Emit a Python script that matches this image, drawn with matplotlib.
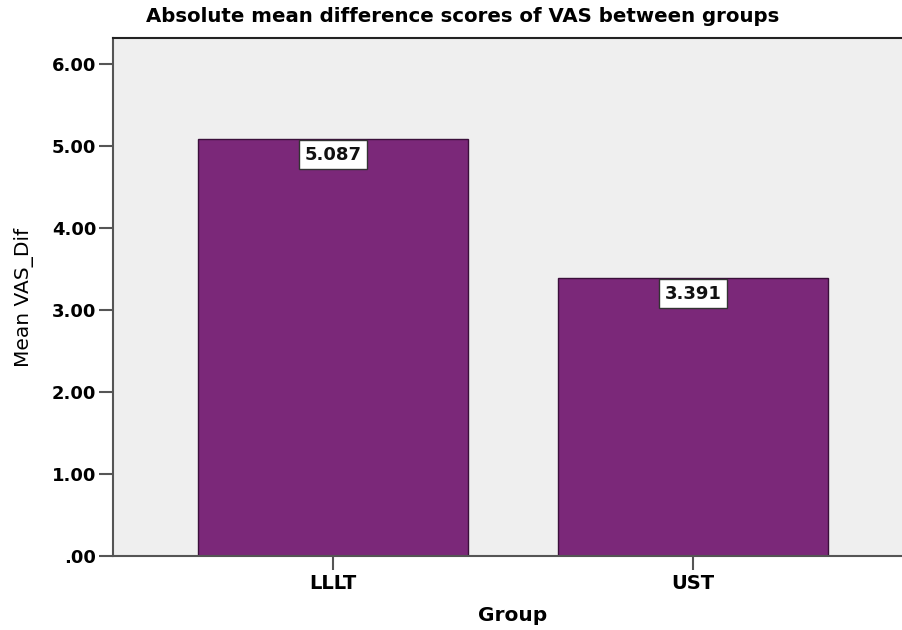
import matplotlib
matplotlib.use("Agg")
import matplotlib.pyplot as plt

categories = ["LLLT", "UST"]
values = [5.087, 3.391]
value_labels = ["5.087", "3.391"]
yticks = [0, 1, 2, 3, 4, 5, 6]
ytick_labels = [".00", "1.00", "2.00", "3.00", "4.00", "5.00", "6.00"]

plt.rcParams['font.family'] = ['DejaVu Sans']

fig = plt.figure(figsize=(9.03, 6.3), dpi=100)
ax = fig.add_axes([113/903, 74/630, 800/903, 518/630])
ax.set_facecolor("#efefef")

x = list(range(len(categories)))
ax.bar(x, values, width=0.75, color="#7b2879", edgecolor="#3a0f3a", linewidth=1.0, zorder=2)
for xi, v, lab in zip(x, values, value_labels):
    ax.annotate(lab, (xi, v), xytext=(0, -5), textcoords="offset points",
                ha="center", va="top", fontsize=13, fontweight="bold", color="#111111",
                bbox=dict(boxstyle="square,pad=0.3", fc="white", ec="#333333", lw=1.0), zorder=3)

ax.set_xlim(-0.611, 1.611)
ax.set_ylim(0, 6.317)
ax.set_xticks(x)
ax.set_xticklabels(categories, fontsize=14, fontweight="bold")
ax.set_yticks(yticks)
ax.set_yticklabels(ytick_labels, fontsize=13, fontweight="bold")
ax.tick_params(axis="both", direction="out", length=10, width=1.5, color="#555555", pad=2)
ax.tick_params(axis="x", pad=3)

for side in ["left", "bottom", "top"]:
    ax.spines[side].set_color("#555555")
    ax.spines[side].set_linewidth(1.5)
ax.spines["top"].set_color("#222222")
ax.spines["right"].set_visible(False)

ax.set_xlabel("Group", fontsize=14.5, fontweight="bold", labelpad=9)
ax.set_ylabel("Mean VAS_Dif", fontsize=14.5, labelpad=13)

fig.text(463/903, 1 - 17/630, "Absolute mean difference scores of VAS between groups",
         ha="center", va="center", fontsize=14.2, fontweight="bold")

fig.savefig("out.png", dpi=100)
